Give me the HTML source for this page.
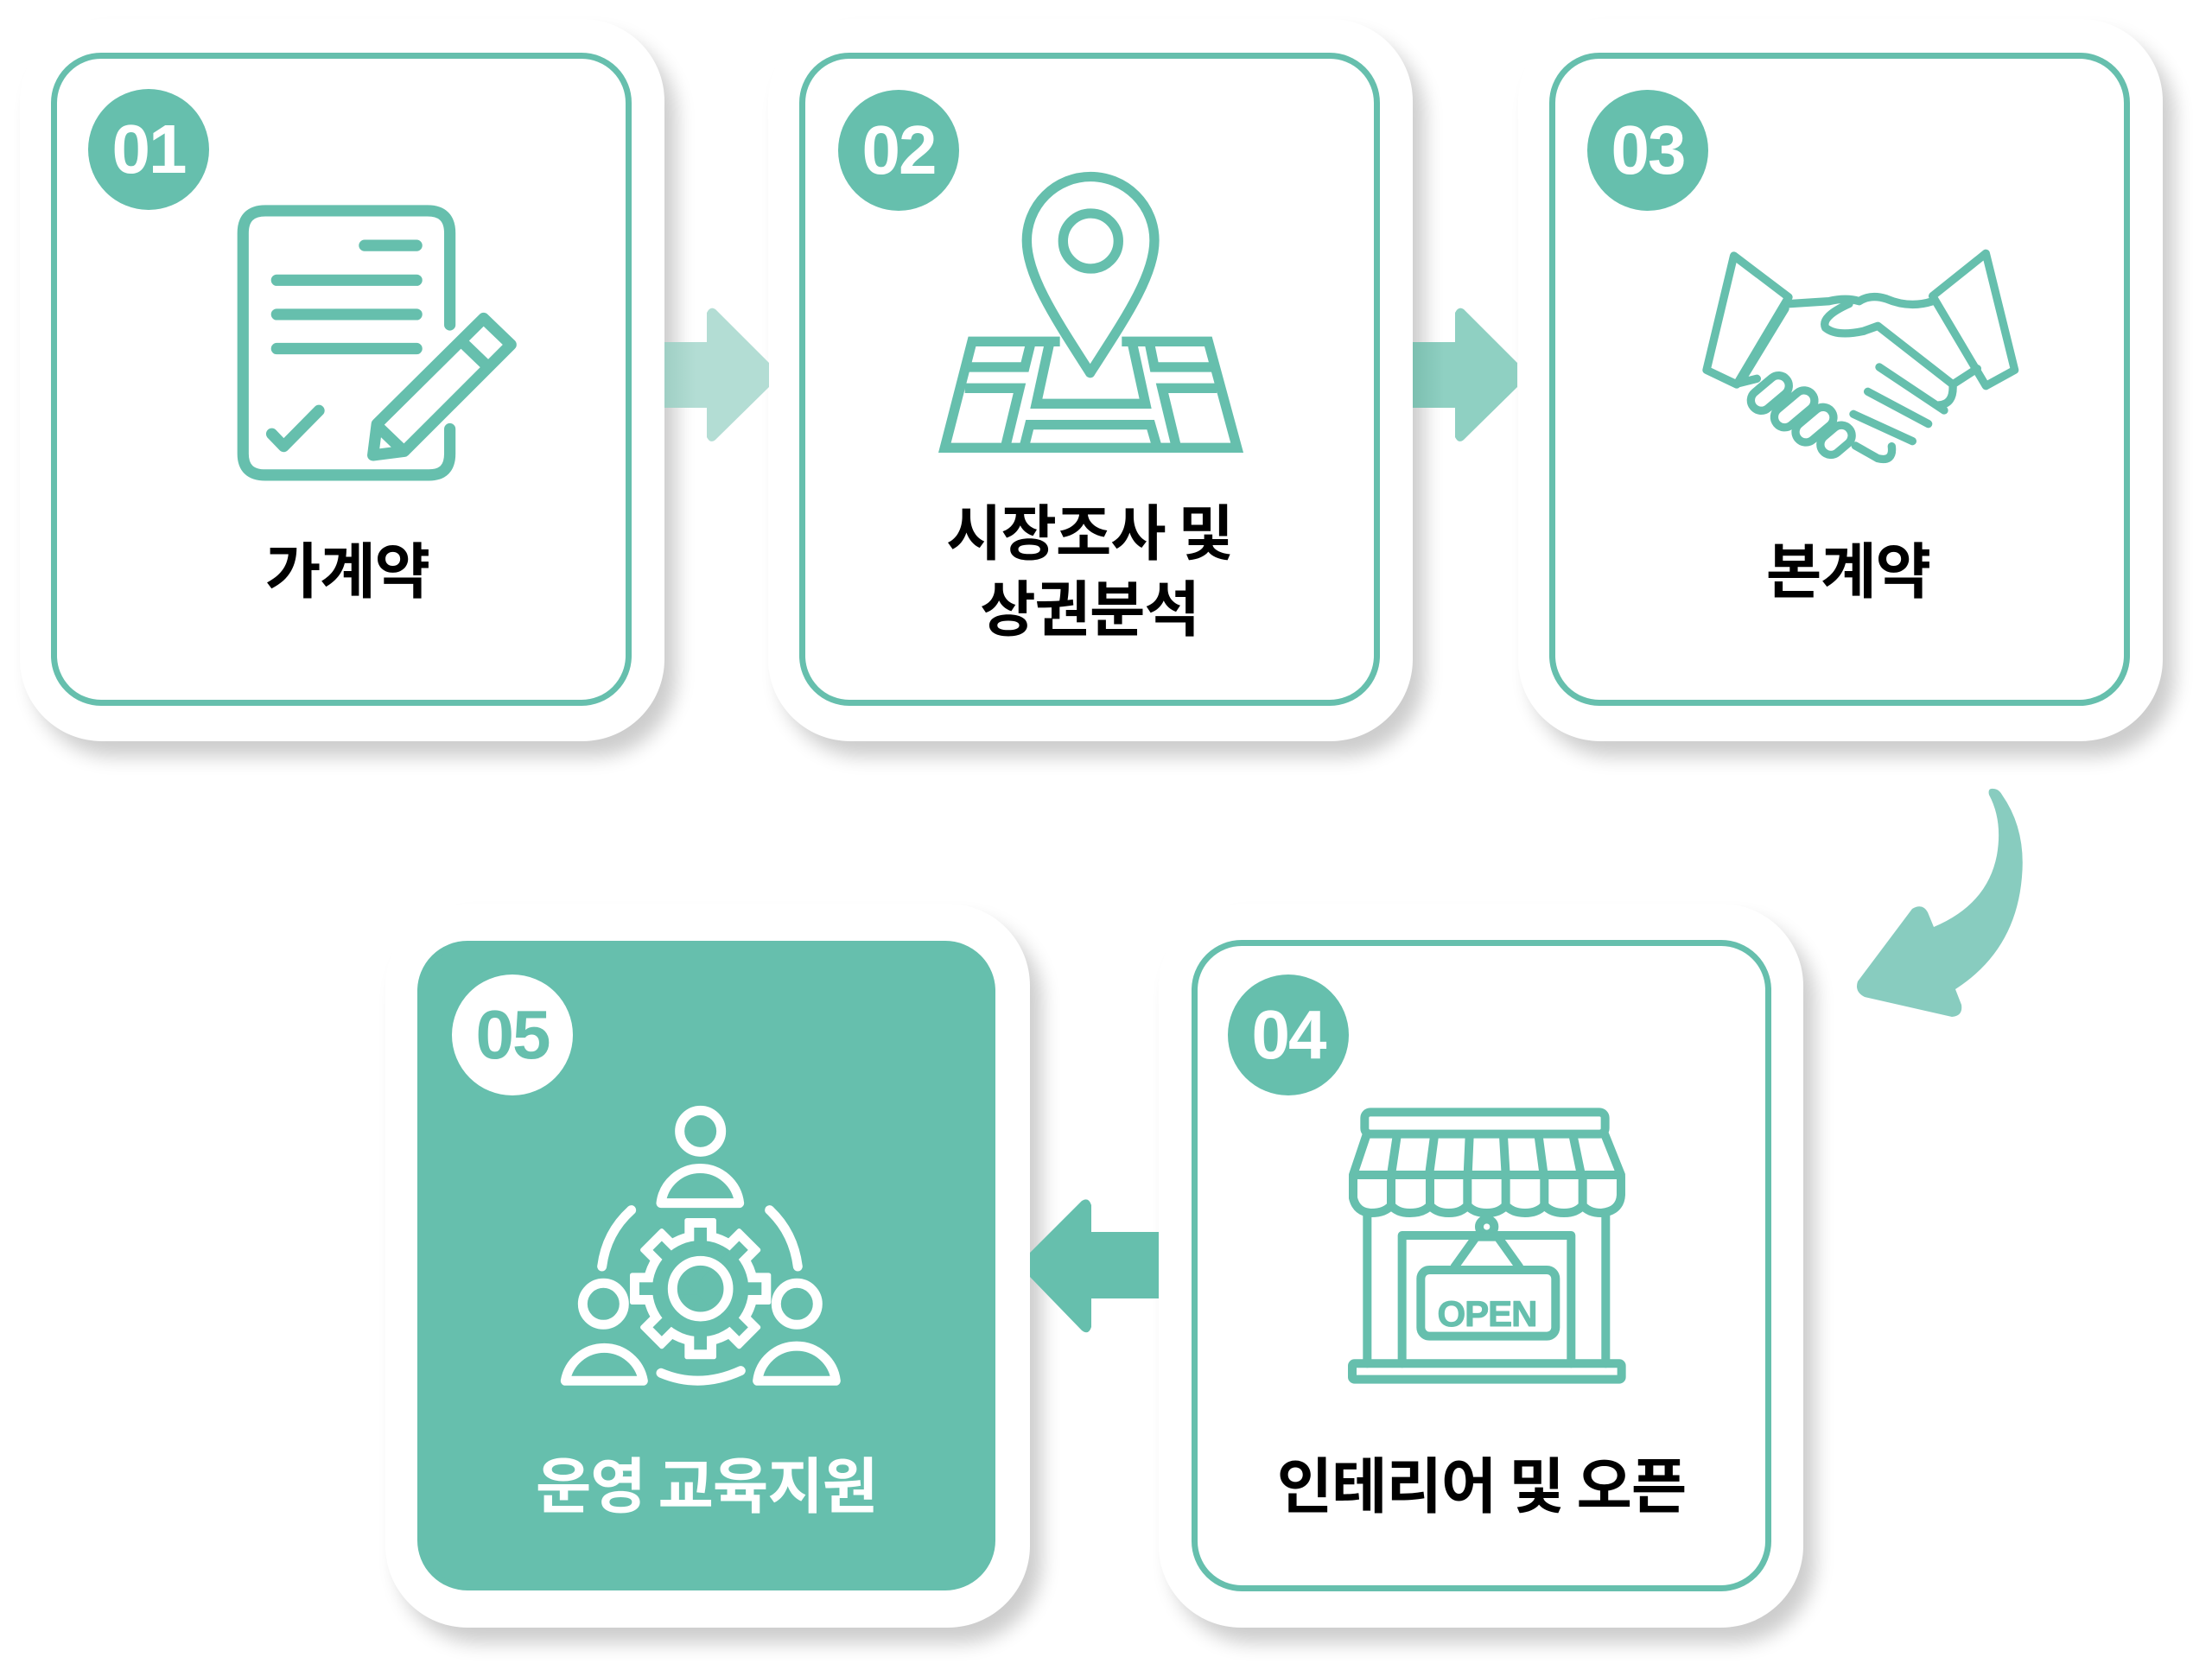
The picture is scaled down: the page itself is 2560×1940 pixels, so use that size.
<!DOCTYPE html>
<html><head><meta charset="utf-8"><style>
html,body{margin:0;padding:0;background:#fff}
body{width:2560px;height:1940px;position:relative;overflow:hidden;font-family:"Liberation Sans","Noto Sans CJK KR",sans-serif}
.card{position:absolute;background:#fff;border-radius:95px;box-shadow:14px 18px 22px rgba(0,0,0,0.2)}
.inner{position:absolute;box-sizing:border-box;border:7px solid #66bfad;border-radius:58px}
.badge{position:absolute;width:140px;height:140px;border-radius:50%;background:#66bfad;color:#fff;font:bold 80px/140px "Liberation Sans",sans-serif;text-align:center;letter-spacing:-2px}
.lbl{position:absolute;font-family:"Noto Sans CJK KR",sans-serif;font-weight:700;font-size:70px;line-height:88px;text-align:center;color:#000;letter-spacing:-1px}
</style></head><body>
<div class="card" style="left:23px;top:22px;width:746px;height:836px"></div>
<div class="card" style="left:889px;top:22px;width:746px;height:836px"></div>
<div class="card" style="left:1757px;top:22px;width:746px;height:836px"></div>
<div class="card" style="left:446px;top:1046px;width:746px;height:838px"></div>
<div class="card" style="left:1341px;top:1046px;width:746px;height:838px"></div>

<div class="inner" style="left:59px;top:61px;width:672px;height:756px"></div>
<div class="inner" style="left:925px;top:61px;width:672px;height:756px"></div>
<div class="inner" style="left:1793px;top:61px;width:672px;height:756px"></div>
<div class="inner" style="left:483px;top:1089px;width:669px;height:752px;background:#66bfad;border-color:#66bfad"></div>
<div class="inner" style="left:1379px;top:1088px;width:671px;height:754px"></div>

<svg width="2560" height="1940" style="position:absolute;left:0;top:0">
<defs>
<linearGradient id="a1" x1="0" x2="1"><stop offset="0" stop-color="#9fcfc4"/><stop offset="0.3" stop-color="#b3ddd4"/></linearGradient>
<linearGradient id="a2" x1="0" x2="1"><stop offset="0" stop-color="#7cbfb0"/><stop offset="0.3" stop-color="#8fd0c2"/></linearGradient>
</defs>
<path d="M769,396 L818,396 L818,362 Q822,354 828,358 L890,420 L890,448 L828,509 Q822,514 818,506 L818,472 L769,472 Z" fill="url(#a1)"/>
<path d="M1635,396 L1684,396 L1684,362 Q1688,354 1694,358 L1756,420 L1756,448 L1694,509 Q1688,514 1684,506 L1684,472 L1635,472 Z" fill="url(#a2)"/>
<path d="M1341,1426 L1263,1426 L1263,1395 Q1260,1385 1252,1390 L1192,1450 L1192,1478 L1252,1540 Q1260,1546 1263,1536 L1263,1503 L1341,1503 Z" fill="#66bfad"/>
<path d="M2302,920 Q2300,912 2307,913 Q2313,913 2317,920 Q2345,960 2340,1015 Q2333,1100 2263,1145 L2270,1163 Q2272,1176 2259,1177 L2158,1154 Q2146,1148 2150,1136 L2213,1052 Q2225,1045 2231,1056 L2238,1073 Q2300,1047 2311,990 Q2318,950 2302,920 Z" fill="#88ccbf"/>

<g fill="none" stroke="#66bfad" stroke-linecap="round" stroke-linejoin="round">
<g transform="scale(0.574)" stroke-width="23">
<path d="M907,655 L907,470 Q907,425 862,425 L535,425 Q490,425 490,470 L490,915 Q490,958 535,958 L865,958 Q907,958 907,915 L907,865"/>
<path d="M735,495 L840,495 M558,565 L840,565 M558,634 L840,634 M558,703 L840,703 M548,875 L572,900 L643,828"/>
<path d="M752,918 L760,855 L975,642 L1030,695 L815,910 Z M760,858 L812,908 M930,688 L982,738"/>
</g>
<g transform="translate(1080,190) scale(0.3333)" stroke-width="34" stroke-linecap="butt" stroke-linejoin="miter">
<path d="M545,725 C430,545 325,390 325,265 A220,220 0 0 1 768,265 C768,390 660,545 545,725 Z" stroke-linejoin="round"/>
<circle cx="547" cy="267" r="96"/>
<path d="M440,616 L135,616 L40,985 L1055,985 L955,616 L655,616"/>
<path d="M405,616 L358,832 L737,832 L690,616"/>
<path d="M120,705 L318,705 L340,616 M110,778 L300,778 L250,985 M975,705 L768,705 L750,616 M985,778 L795,778 L845,985 M315,985 L335,905 L755,905 L778,985"/>
</g>
<g transform="translate(1960,270) scale(0.3333)" stroke-width="28">
<path d="M140,78 L330,222 L150,525 L45,475 Z M1015,70 L1115,475 L1015,530 L830,218 Z"/>
<path d="M330,245 L470,236 Q530,222 575,236 M575,236 Q615,210 670,228 Q750,262 830,236"/>
<path d="M540,245 Q440,290 458,328 Q495,360 590,340 L640,322 L900,525 Q905,595 850,597 M900,525 L985,470"/>
<path d="M645,465 L870,615 M605,550 L815,662 M555,628 L760,722 M562,738 L640,782 Q695,795 688,740"/>
<path d="M318,262 L170,505 M160,520 L220,505"/>
<rect x="-75" y="-36" width="150" height="72" rx="36" transform="translate(265,555) rotate(-40)"/>
<rect x="-80" y="-36" width="160" height="72" rx="36" transform="translate(350,610) rotate(-40)"/>
<rect x="-75" y="-36" width="150" height="72" rx="36" transform="translate(420,665) rotate(-40)"/>
<rect x="-60" y="-36" width="120" height="72" rx="36" transform="translate(495,718) rotate(-40)"/>
</g>
<g transform="translate(1550,1270) scale(0.3333)" stroke-width="30">
<rect x="88" y="52" width="835" height="76" rx="20"/>
<path d="M95,130 L48,270 L978,270 L922,130 M200,135 L180,270 M330,135 L312,270 M452,135 L446,270 M570,135 L578,270 M692,135 L710,270 M812,135 L840,270"/>
<path d="M48,275 L48,350 Q60,400 110,402 Q160,402 180,375 Q200,402 245,402 Q295,402 315,375 Q335,402 380,402 Q425,402 445,375 Q465,402 512,402 Q558,402 578,375 Q600,402 645,402 Q690,402 712,375 Q735,402 780,402 Q825,402 845,375 Q865,402 910,402 Q975,395 978,340 L978,275 M180,275 L180,375 M315,275 L315,375 M445,275 L445,375 M578,275 L578,375 M712,275 L712,375 M845,275 L845,375"/>
<path d="M97,400 L97,925 M925,400 L925,925 M218,925 L218,480 L490,480 M535,480 L805,480 L805,925"/>
<circle cx="512" cy="450" r="26"/>
<path d="M400,590 L475,485 L550,485 L625,590"/>
<rect x="283" y="600" width="468" height="230" rx="30"/>
<rect x="45" y="925" width="935" height="55" rx="8"/>
</g>
<text x="1721" y="1535" text-anchor="middle" font-family="Liberation Sans" font-weight="bold" font-size="42" fill="#66bfad" letter-spacing="-1">OPEN</text>
</g>

<g transform="translate(630,1270) scale(0.3333)">
<g fill="#fff">
<circle cx="542" cy="665" r="200"/>
<g transform="translate(542,665)">
<rect x="-55" y="-245" width="110" height="490" rx="8"/>
<rect x="-55" y="-245" width="110" height="490" rx="8" transform="rotate(45)"/>
<rect x="-55" y="-245" width="110" height="490" rx="8" transform="rotate(90)"/>
<rect x="-55" y="-245" width="110" height="490" rx="8" transform="rotate(135)"/>
</g></g>
<g fill="#66bfad">
<circle cx="542" cy="665" r="167"/>
<g transform="translate(542,665)">
<rect x="-22" y="-212" width="44" height="424"/>
<rect x="-22" y="-212" width="44" height="424" transform="rotate(45)"/>
<rect x="-22" y="-212" width="44" height="424" transform="rotate(90)"/>
<rect x="-22" y="-212" width="44" height="424" transform="rotate(135)"/>
</g></g>
<g fill="none" stroke="#fff" stroke-width="33" stroke-linecap="round">
<circle cx="542" cy="665" r="97"/>
<circle cx="542" cy="118" r="72"/>
<path d="M405,368 A137,137 0 0 1 677,368 Z" stroke-linejoin="round"/>
<circle cx="205" cy="718" r="72"/>
<path d="M73,985 A137,137 0 0 1 343,985 Z" stroke-linejoin="round"/>
<circle cx="877" cy="718" r="72"/>
<path d="M740,985 A137,137 0 0 1 1012,985 Z" stroke-linejoin="round"/>
<path d="M200,588 Q215,470 302,392 M880,588 Q865,470 782,392 M405,958 Q540,1015 682,950"/>
</g>
</g>
</svg>

<div class="badge" style="left:102px;top:103px">01</div>
<div class="badge" style="left:970px;top:104px">02</div>
<div class="badge" style="left:1837px;top:104px">03</div>
<div class="badge" style="left:523px;top:1128px;background:#fff;color:#66bfad">05</div>
<div class="badge" style="left:1421px;top:1128px">04</div>

<div class="lbl" style="left:59px;top:613px;width:686px">가계약</div>
<div class="lbl" style="left:925px;top:569px;width:672px">시장조사 및<br>상권분석</div>
<div class="lbl" style="left:1792px;top:613px;width:694px">본계약</div>
<div class="lbl" style="left:483px;top:1672px;width:669px;color:#fff">운영 교육지원</div>
<div class="lbl" style="left:1379px;top:1672px;width:671px">인테리어 및 오픈</div>
</body></html>
